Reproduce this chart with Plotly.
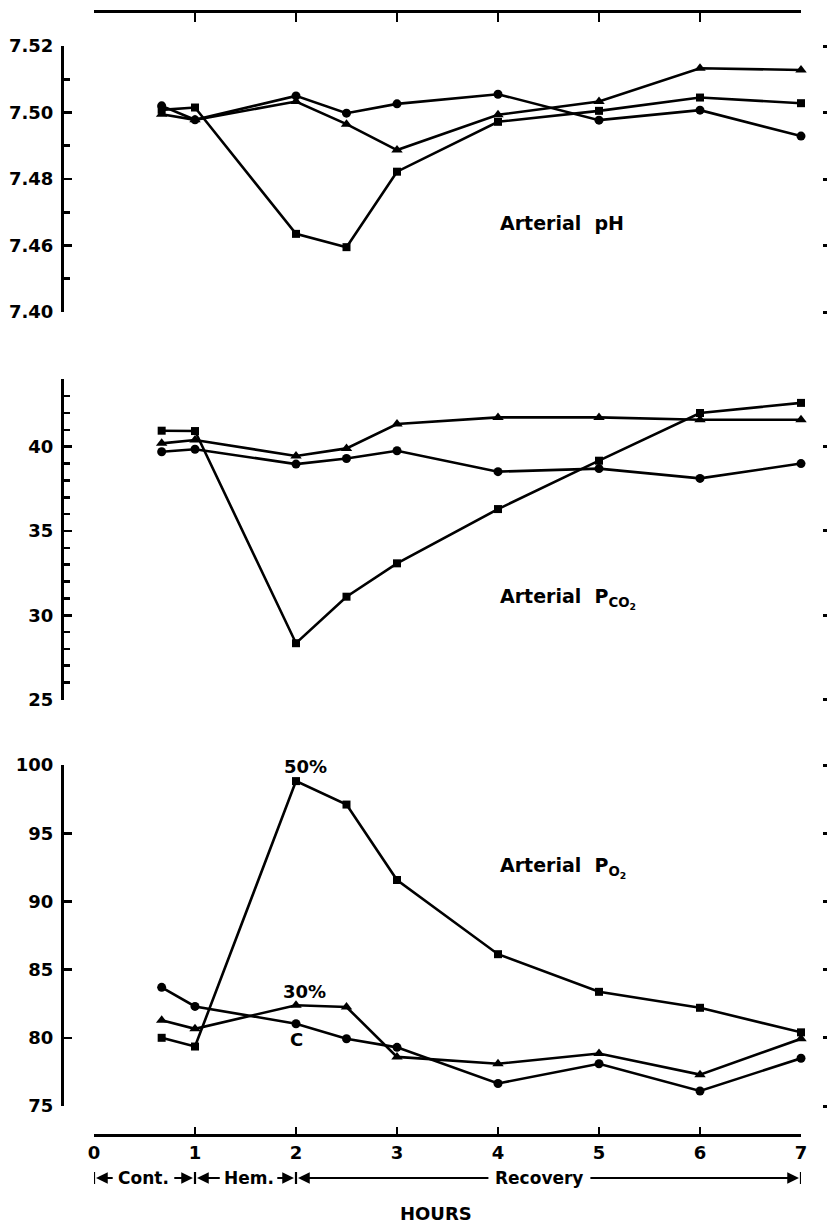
import plotly.graph_objects as go

# ---------------- data ----------------
hours = [0.67, 1, 2, 2.5, 3, 4, 5, 6, 7]

ph_c = [7.502, 7.4978, 7.505, 7.4998, 7.5026, 7.5055, 7.4977, 7.5007, 7.4929]
ph_30 = [7.4995, 7.4978, 7.5033, 7.4965, 7.4887, 7.4993, 7.5033, 7.5133, 7.5128]
ph_50 = [7.5008, 7.5015, 7.4635, 7.4595, 7.4822, 7.4972, 7.5005, 7.5045, 7.5028]

pco2_c = [39.7, 39.85, 38.97, 39.3, 39.76, 38.52, 38.7, 38.12, 39.0]
pco2_30 = [40.2, 40.4, 39.45, 39.9, 41.35, 41.74, 41.74, 41.6, 41.6]
pco2_50 = [40.95, 40.93, 28.34, 31.1, 33.08, 36.3, 39.17, 42.0, 42.6]

po2_c = [83.7, 82.3, 81.03, 79.93, 79.3, 76.65, 78.1, 76.1, 78.5]
po2_30 = [81.28, 80.66, 82.39, 82.26, 78.6, 78.1, 78.85, 77.3, 79.93]
po2_50 = [80.0, 79.36, 98.82, 97.1, 91.57, 86.13, 83.37, 82.2, 80.4]

x_ticks = [0, 1, 2, 3, 4, 5, 6, 7]
ph_tickvals = [7.44, 7.46, 7.48, 7.50, 7.52]
ph_ticktext = ["7.40", "7.46", "7.48", "7.50", "7.52"]
ph_minor = [7.45, 7.47, 7.49, 7.51]
pco2_tickvals = [25, 30, 35, 40]
po2_tickvals = [75, 80, 85, 90, 95, 100]

phases = [("Cont.", 0, 1), ("Hem.", 1, 2), ("Recovery", 2, 7)]
phase_label_center = [0.49, 1.53, 4.41]
phase_label_halfwidth = [0.29, 0.27, 0.49]

# ---------------- geometry helpers ----------------
W, H = 827, 1226
ML, MR = 50, 0


def fx(px):
    return (px - ML) / (W - ML - MR)


def fy(py):
    return 1 - py / H


FONT = "DejaVu Sans"
BLACK = "black"
LW = 2.6
AXW = 2.6

fig = go.Figure()

series_styles = [
    ("circle", 9),
    ("triangle-up", 10),
    ("square", 8),
]
panels = [
    ("y", [ph_c, ph_30, ph_50]),
    ("y2", [pco2_c, pco2_30, pco2_50]),
    ("y3", [po2_c, po2_30, po2_50]),
]
for yref, sets in panels:
    for (sym, size), vals in zip(series_styles, sets):
        fig.add_trace(go.Scatter(
            x=hours, y=vals, xaxis="x", yaxis=yref, mode="lines+markers",
            line=dict(color=BLACK, width=LW),
            marker=dict(symbol=sym, size=size, color=BLACK),
            cliponaxis=False, showlegend=False, hoverinfo="skip"))

# dummy traces so the decorative axes are drawn
for ya in ["y4", "y5", "y6"]:
    fig.add_trace(go.Scatter(x=[None], y=[None], xaxis="x", yaxis=ya,
                             showlegend=False, hoverinfo="skip"))
fig.add_trace(go.Scatter(x=[None], y=[None], xaxis="x2", yaxis="y",
                         showlegend=False, hoverinfo="skip"))

x_dom = [fx(94), fx(801)]
y_left = fx(62)
y_right = fx(822)

tickfont_y = dict(family=FONT, size=18, color=BLACK, weight="bold")
tickfont_x = dict(family=FONT, size=18, color=BLACK, weight="bold")


def yaxis_common(rng, dom, tickvals, ticktext=None, minor=None):
    d = dict(
        range=rng, domain=dom, anchor="free", position=y_left,
        showline=True, linecolor=BLACK, linewidth=AXW,
        ticks="inside", ticklen=8, tickwidth=AXW, tickcolor=BLACK,
        tickmode="array", tickvals=tickvals,
        showgrid=False, zeroline=False, tickfont=tickfont_y,
        ticklabelstandoff=4, automargin=False, fixedrange=True,
    )
    if ticktext is not None:
        d["ticktext"] = ticktext
    if minor is not None:
        d["minor"] = minor
    return d


def yaxis_right(overlay, rng, dom, tickvals):
    return dict(
        overlaying=overlay, side="right", anchor="free", position=y_right,
        range=rng, domain=dom, showline=False, showgrid=False, zeroline=False,
        ticks="outside", ticklen=4, tickwidth=3, tickcolor=BLACK,
        tickmode="array", tickvals=tickvals, showticklabels=False,
        automargin=False,
    )


ph_rng = [7.44, 7.52]
pco2_rng = [25, 44]
po2_rng = [75, 100]
ph_dom = [fy(312), fy(46)]
pco2_dom = [fy(699.5), fy(379.3)]
po2_dom = [fy(1106), fy(765)]

fig.update_layout(
    width=W, height=H, template="none",
    paper_bgcolor="white", plot_bgcolor="rgba(0,0,0,0)",
    margin=dict(l=ML, r=MR, t=0, b=0, pad=0),
    showlegend=False,
    font=dict(family=FONT, color=BLACK),
    xaxis=dict(
        range=[0, 7], domain=x_dom, anchor="free", position=fy(1135),
        showline=True, linecolor=BLACK, linewidth=AXW,
        ticks="inside", ticklen=7, tickwidth=AXW, tickcolor=BLACK,
        tickmode="array", tickvals=x_ticks,
        showgrid=False, zeroline=False, tickfont=tickfont_x,
        ticklabelstandoff=1, automargin=False, fixedrange=True,
    ),
    xaxis2=dict(
        overlaying="x", side="top", anchor="free", position=fy(11),
        range=[0, 7], showline=True, linecolor=BLACK, linewidth=AXW,
        ticks="inside", ticklen=9, tickwidth=AXW, tickcolor=BLACK,
        tickmode="array", tickvals=x_ticks, showticklabels=False,
        showgrid=False, zeroline=False, automargin=False,
    ),
    yaxis=yaxis_common(ph_rng, ph_dom, ph_tickvals, ph_ticktext,
                       minor=dict(tickmode="array", tickvals=ph_minor,
                                  ticks="inside", ticklen=6,
                                  tickwidth=AXW, tickcolor=BLACK)),
    yaxis2=yaxis_common(pco2_rng, pco2_dom, pco2_tickvals,
                        minor=dict(dtick=1, tick0=25, ticks="inside",
                                   ticklen=6, tickwidth=AXW,
                                   tickcolor=BLACK)),
    yaxis3=yaxis_common(po2_rng, po2_dom, po2_tickvals),
    yaxis4=yaxis_right("y", ph_rng, ph_dom, ph_tickvals),
    yaxis5=yaxis_right("y2", pco2_rng, pco2_dom, pco2_tickvals),
    yaxis6=yaxis_right("y3", po2_rng, po2_dom, po2_tickvals),
)

label_font = dict(family=FONT, size=19, color=BLACK, weight="bold")
small_font = dict(family=FONT, size=18, color=BLACK, weight="bold")

ann = [
    dict(x=4.0, y=7.4668, xref="x", yref="y", xanchor="left",
         yanchor="middle", text="Arterial&nbsp;&nbsp;pH",
         showarrow=False, font=label_font),
    dict(x=4.0, y=31.0, xref="x", yref="y2", xanchor="left",
         yanchor="middle",
         text="Arterial&nbsp;&nbsp;P<sub>CO<sub>2</sub></sub>",
         showarrow=False, font=label_font),
    dict(x=4.0, y=92.5, xref="x", yref="y3", xanchor="left",
         yanchor="middle",
         text="Arterial&nbsp;&nbsp;P<sub>O<sub>2</sub></sub>",
         showarrow=False, font=label_font),
    dict(x=2.09, y=99.9, xref="x", yref="y3", text="50%",
         showarrow=False, font=small_font),
    dict(x=2.08, y=83.4, xref="x", yref="y3", text="30%",
         showarrow=False, font=small_font),
    dict(x=2.0, y=79.84, xref="x", yref="y3", text="C",
         showarrow=False, font=small_font),
    dict(x=3.39, y=fy(1213), xref="x", yref="paper", text="HOURS",
         yanchor="middle", showarrow=False, font=small_font),
]

row_y = fy(1178)
bar_half = 6 / H
shapes = []
bars = sorted({p[1] for p in phases} | {p[2] for p in phases})
for b in bars:
    shapes.append(dict(type="line", xref="x", yref="paper", x0=b, x1=b,
                       y0=row_y - bar_half, y1=row_y + bar_half,
                       line=dict(color=BLACK, width=2.2)))

for (label, x0, x1), c, hw in zip(phases, phase_label_center,
                                  phase_label_halfwidth):
    ann.append(dict(x=c, y=row_y, xref="x", yref="paper", text=label,
                    yanchor="middle", showarrow=False,
                    font=dict(family=FONT, size=17, color=BLACK,
                              weight="bold")))
    for head, tail in [(x0 + 0.02, c - hw), (x1 - 0.02, c + hw)]:
        ann.append(dict(x=head, y=row_y, xref="x", yref="paper",
                        ax=tail, ay=0, axref="x", ayref="pixel",
                        text="", showarrow=True, arrowhead=2,
                        arrowsize=1.3, arrowwidth=1.8, arrowcolor=BLACK,
                        standoff=0, startstandoff=0))

fig.update_layout(annotations=ann, shapes=shapes)

fig.write_html(
    "out.html",
    config={"displayModeBar": False, "staticPlot": True},
    post_script="document.body.style.margin='0';"
                "document.body.style.overflow='hidden';",
)
